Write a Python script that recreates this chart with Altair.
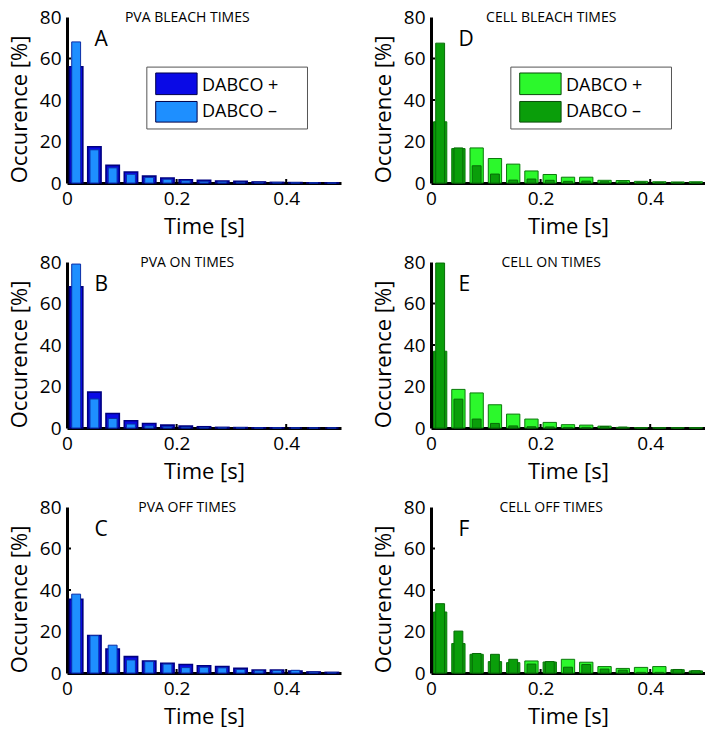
import altair as alt
import pandas as pd

# ---------------- data ----------------
bin_centers = [0.0167, 0.05, 0.0833, 0.1167, 0.15, 0.1833, 0.2167, 0.25,
               0.2833, 0.3167, 0.35, 0.3833, 0.4167, 0.45, 0.4833]

pva_bleach_plus = [56.0, 17.5, 8.5, 5.3, 3.3, 2.4, 1.6, 1.3, 1.0, 0.8, 0.5, 0.3, 0.2, 0.1, 0.1]
pva_bleach_minus = [68.0, 16.0, 7.3, 4.2, 2.7, 1.8, 1.1, 0.8, 0.6, 0.4, 0.3, 0.2, 0.1, 0.1, 0.0]

pva_on_plus = [68.0, 17.3, 7.0, 3.5, 2.2, 1.4, 0.9, 0.6, 0.3, 0.2, 0.1, 0.1, 0.0, 0.0, 0.0]
pva_on_minus = [79.0, 14.0, 4.6, 1.9, 1.0, 0.6, 0.4, 0.2, 0.1, 0.1, 0.0, 0.0, 0.0, 0.0, 0.0]

pva_off_plus = [35.5, 18.1, 11.5, 7.9, 5.8, 4.7, 4.1, 3.5, 3.1, 2.3, 1.4, 1.4, 0.9, 0.5, 0.3]
pva_off_minus = [38.0, 18.0, 13.4, 6.3, 5.5, 4.3, 2.6, 2.8, 2.5, 1.7, 1.1, 1.2, 1.3, 0.4, 0.2]

cell_bleach_plus = [29.5, 16.6, 16.9, 11.8, 9.1, 5.8, 4.1, 2.8, 2.8, 1.3, 1.2, 0.8, 0.6, 0.5, 0.6]
cell_bleach_minus = [67.4, 16.9, 8.3, 4.3, 1.4, 1.9, 1.3, 0.8, 0.9, 0.6, 0.5, 0.3, 0.2, 0.2, 0.1]

cell_on_plus = [37.0, 18.6, 16.9, 11.2, 6.7, 4.3, 2.7, 1.6, 1.4, 0.9, 0.3, 0.2, 0.1, 0.1, 0.1]
cell_on_minus = [79.5, 13.9, 4.3, 2.2, 1.0, 0.6, 0.5, 0.3, 0.3, 0.7, 0.45, 0.1, 0.1, 0.0, 0.0]

cell_off_plus = [29.4, 14.2, 9.0, 5.5, 5.0, 5.8, 5.3, 6.6, 5.2, 3.1, 2.2, 2.7, 3.1, 1.6, 1.0]
cell_off_minus = [33.4, 20.2, 9.4, 9.0, 6.6, 4.3, 5.5, 2.8, 4.1, 1.9, 1.4, 0.3, 0.3, 1.7, 1.1]

legend_labels = ["DABCO +", "DABCO \u2013"]
x_tick_values = [0, 0.2, 0.4]
y_tick_values = [0, 20, 40, 60, 80]
inner_x_ticks = [0.2, 0.4]
inner_y_ticks = [20, 40, 60]

# ---------------- styling ----------------
W, H = 274, 166
SX, SY = W / 278.0, H / 169.0
WIDE, NARROW = 0.0243, 0.0162
FONT = "Open Sans"

SCHEMES = {
    "blue": dict(plus="#0a0ae6", minus="#1e8fff", plus_edge="#000080",
                 minus_edge="#0b2fa8", legend_edge="#00004a"),
    "green": dict(plus="#2cf82c", minus="#0a9e0a", plus_edge="#0b7a0b",
                  minus_edge="#076b07", legend_edge="#0a4a0a"),
}

x_scale = alt.Scale(domain=[0, 0.5], nice=False, zero=False)
y_scale = alt.Scale(domain=[0, 80], nice=False)
x_axis = alt.Axis(values=x_tick_values, format="~g", title="Time [s]",
                  labelFlush=False, labelPadding=6, titlePadding=8)
y_axis = alt.Axis(values=y_tick_values, title="Occurence [%]", labelFlush=False,
                  labelPadding=6, titlePadding=8, titleY=H / 2 + 9)


def X(field):
    return alt.X(field, type="quantitative", scale=x_scale, axis=x_axis)


def Y(field):
    return alt.Y(field, type="quantitative", scale=y_scale, axis=y_axis)


def text_layer(txt, x, y, size, align="left"):
    return alt.Chart(pd.DataFrame({"label": [txt]})).mark_text(
        font=FONT, fontSize=size, align=align, baseline="alphabetic", color="black"
    ).encode(text="label:N", x=alt.value(x), y=alt.value(y))


def panel(title, letter, plus, minus, scheme, show_legend):
    c = SCHEMES[scheme]
    df = pd.DataFrame({
        "t": bin_centers,
        "plus": plus,
        "minus": minus,
    })
    df["w0"] = df["t"] - WIDE / 2
    df["w1"] = df["t"] + WIDE / 2
    df["n0"] = df["t"] - NARROW / 2
    df["n1"] = df["t"] + NARROW / 2
    if scheme == "green":
        df["wide_fill"] = [c["minus"] if m > p else c["plus"] for p, m in zip(plus, minus)]
    else:
        df["wide_fill"] = c["plus"]
    base = alt.Chart(df)

    xt = alt.Chart(pd.DataFrame({"v": inner_x_ticks})).mark_rule(
        color="black", strokeWidth=2).encode(
        x=X("v"), y=alt.value(H), y2=alt.value(H - 4))
    yt = alt.Chart(pd.DataFrame({"v": inner_y_ticks})).mark_rule(
        color="black", strokeWidth=2).encode(
        y=Y("v"), x=alt.value(0), x2=alt.value(4))

    wide = base.mark_rect(stroke=c["plus_edge"],
                          strokeWidth=1.6 if scheme == "blue" else 1.0).encode(
        x=X("w0"), x2="w1", y=Y("plus"), y2=alt.datum(0),
        fill=alt.Fill("wide_fill:N", scale=None))
    narrow = base.mark_rect(fill=c["minus"], stroke=c["minus_edge"], strokeWidth=1.0).encode(
        x=X("n0"), x2="n1", y=Y("minus"), y2=alt.datum(0))

    layers = [xt, yt, wide, narrow,
              text_layer(title, 122 * SX, 5, 14, align="center"),
              text_layer(letter, 28 * SX, 30 * SY, 21)]

    if show_legend:
        box = alt.Chart(pd.DataFrame({"k": [0]})).mark_rect(
            fill="white", stroke="#555555", strokeWidth=1).encode(
            x=alt.value(81 * SX), x2=alt.value(244 * SX),
            y=alt.value(51 * SY), y2=alt.value(114 * SY))
        layers.append(box)
        rows = [(57, 79, 75), (86, 107, 102)]
        fills = [c["plus"], c["minus"]]
        for (y0, y1, yb), lab, f in zip(rows, legend_labels, fills):
            sw = alt.Chart(pd.DataFrame({"k": [lab]})).mark_rect(
                fill=f, stroke=c["legend_edge"], strokeWidth=1).encode(
                x=alt.value(90 * SX), x2=alt.value(132 * SX),
                y=alt.value(y0 * SY), y2=alt.value(y1 * SY))
            layers.append(sw)
            layers.append(text_layer(lab, 137 * SX, yb * SY, 18))

    return alt.layer(*layers).properties(width=W, height=H)


pA = panel("PVA BLEACH TIMES", "A", pva_bleach_plus, pva_bleach_minus, "blue", True)
pB = panel("PVA ON TIMES", "B", pva_on_plus, pva_on_minus, "blue", False)
pC = panel("PVA OFF TIMES", "C", pva_off_plus, pva_off_minus, "blue", False)
pD = panel("CELL BLEACH TIMES", "D", cell_bleach_plus, cell_bleach_minus, "green", True)
pE = panel("CELL ON TIMES", "E", cell_on_plus, cell_on_minus, "green", False)
pF = panel("CELL OFF TIMES", "F", cell_off_plus, cell_off_minus, "green", False)

chart = alt.vconcat(
    alt.hconcat(pA, pD, spacing=31),
    alt.hconcat(pB, pE, spacing=31),
    alt.hconcat(pC, pF, spacing=31),
    spacing=16,
).properties(padding=0).configure_view(stroke=None).configure_axis(
    domainColor="black", domainWidth=3, ticks=False, grid=False,
    labelFont=FONT, titleFont=FONT, labelFontSize=19, titleFontSize=22,
    titleFontWeight="normal", labelColor="black", titleColor="black", zindex=1,
)

chart.save("out.html", embed_options={"renderer": "svg", "actions": False})
